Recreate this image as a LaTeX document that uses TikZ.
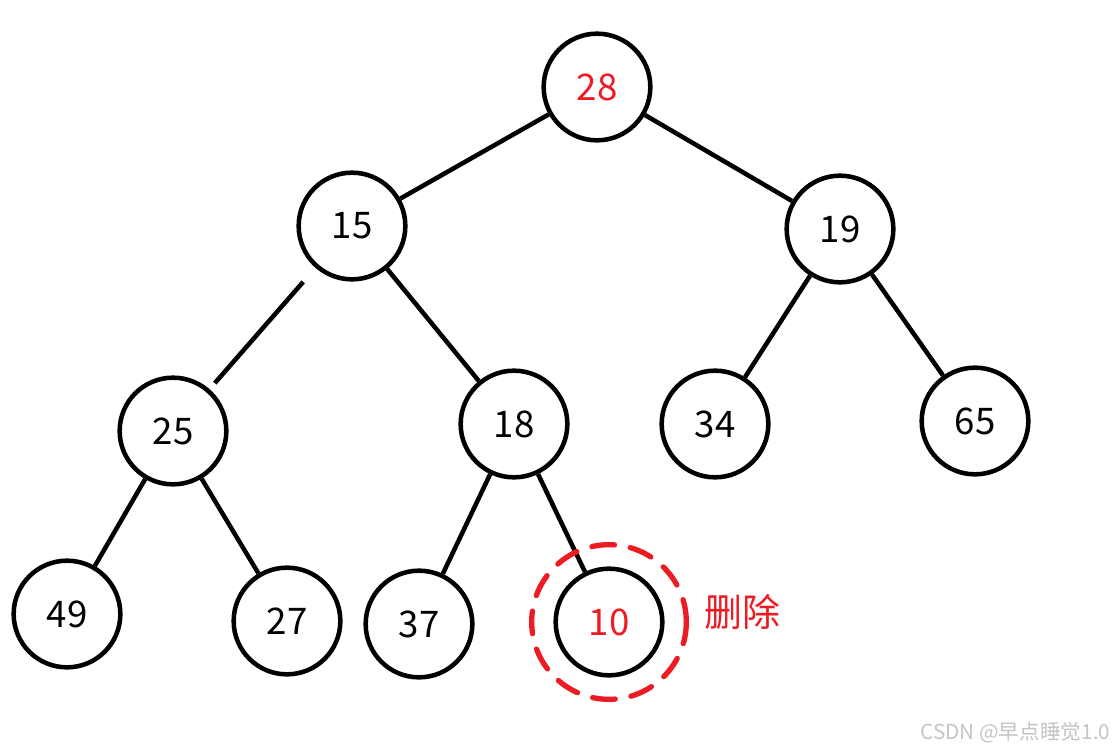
\documentclass[tikz,border=0pt]{standalone}
\usepackage{fontspec}
\newfontfamily\cjk{Noto Sans CJK SC}
\usepackage{xcolor}
\definecolor{DelRed}{HTML}{ED1C24}
\definecolor{MarkGray}{HTML}{C4C4C4}

\begin{document}
\begin{tikzpicture}[x=0.75pt, y=-0.75pt,
  vtx/.style={circle, draw=black, line width=3.4pt, minimum size=80pt, inner sep=0pt,
              font=\cjk\fontsize{27.5}{32}\selectfont},
  edge/.style={line width=3.4pt}
]
  \useasboundingbox (0,0) rectangle (1119,753);

  % heap nodes
  \node[vtx, text=DelRed] (n28) at (597,87)  {28};
  \node[vtx]              (n15) at (352,226) {15};
  \node[vtx]              (n19) at (840,229) {19};
  \node[vtx]              (n25) at (173,431) {25};
  \node[vtx]              (n18) at (514,424) {18};
  \node[vtx]              (n34) at (715,424) {34};
  \node[vtx]              (n65) at (975,421) {65};
  \node[vtx]              (n49) at (67,614)  {49};
  \node[vtx]              (n27) at (287,621) {27};
  \node[vtx]              (n37) at (419,624) {37};
  \node[vtx, text=DelRed] (n10) at (609,622) {10};

  % tree edges
  \draw[edge] (n28) -- (n15);
  \draw[edge] (n28) -- (n19);
  \draw[edge, shorten <=14pt, shorten >=6pt] (n15) -- (n25);
  \draw[edge] (n15) -- (n18);
  \draw[edge] (n19) -- (n34);
  \draw[edge] (n19) -- (n65);
  \draw[edge] (n25) -- (n49);
  \draw[edge] (n25) -- (n27);
  \draw[edge] (n18) -- (n37);
  \draw[edge] (n18) -- (n10);

  % deleted node mark
  \draw[DelRed, line width=4pt, line cap=round, dash pattern=on 17pt off 12pt]
    (n10.center) circle[radius=58pt];
  \node[font=\cjk\fontsize{28.5}{34}\selectfont, text=DelRed, anchor=west] (del) at (700,612) {删除};

  \node[font=\cjk\fontsize{15.5}{18}\selectfont, text=MarkGray, anchor=east] (mark) at (1115,733) {CSDN @早点睡觉1.0};
\end{tikzpicture}
\end{document}
